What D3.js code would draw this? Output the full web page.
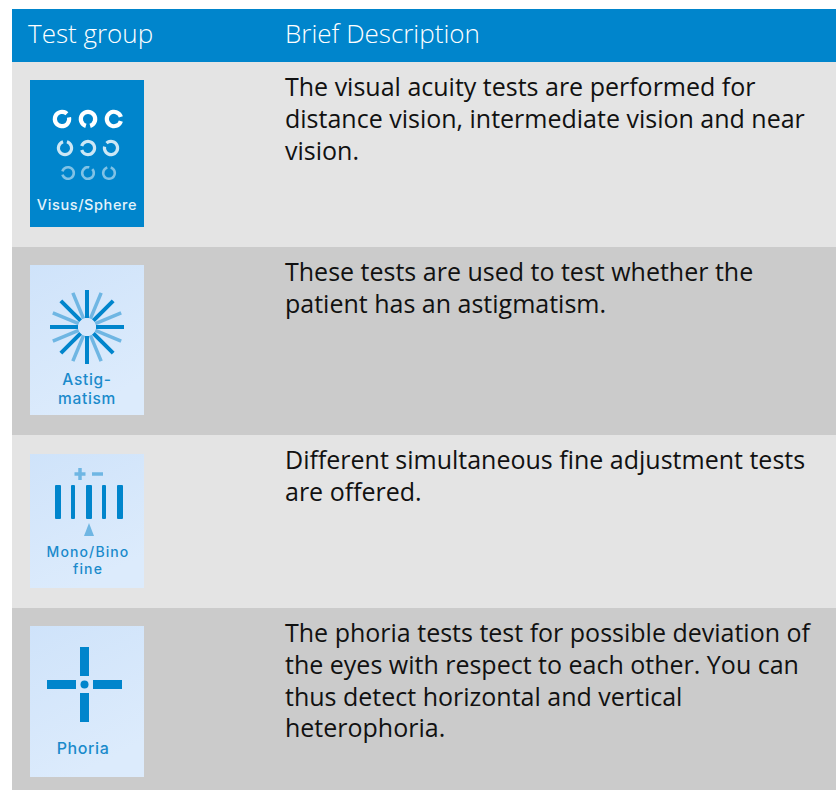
<!DOCTYPE html>
<html>
<head>
<meta charset="utf-8">
<script src="https://cdn.jsdelivr.net/npm/d3@7"></script>
<style>
  html, body { margin: 0; padding: 0; background: white; }
  svg { display: block; }
  text { font-family: "Open Sans", "Noto Sans", sans-serif; }
  text.icon-label { font-family: Inter, "Open Sans", sans-serif; }
</style>
</head>
<body>
<svg id="chart" width="836" height="790"></svg>
<script>
const headers = ["Test group", "Brief Description"];
const groups = ["Visus/Sphere", "Astigmatism", "Mono/Bino fine", "Phoria"];
const iconLabels = [["Visus/Sphere"], ["Astig-", "matism"], ["Mono/Bino", "fine"], ["Phoria"]];
const descriptions = [
    ["The visual acuity tests are performed for", "distance vision, intermediate vision and near", "vision."],
    ["These tests are used to test whether the", "patient has an astigmatism."],
    ["Different simultaneous fine adjustment tests", "are offered."],
    ["The phoria tests test for possible deviation of", "the eyes with respect to each other. You can", "thus detect horizontal and vertical", "heterophoria."]
];
const rowEdges = [62, 247, 435, 608, 790];
const iconEdges = [[80, 227], [265, 415], [454, 588], [626, 777]];

const BLUE = "#0085cc";
const LIGHT = "#6fb6e3";
const svg = d3.select("#chart");

const defs = svg.append("defs");
const grad = defs.append("linearGradient").attr("id", "iconBg")
    .attr("x1", 0).attr("y1", 0).attr("x2", 0.4).attr("y2", 1);
grad.append("stop").attr("offset", 0).attr("stop-color", "#cfe3fa");
grad.append("stop").attr("offset", 1).attr("stop-color", "#dcebfc");

// header band
svg.append("rect").attr("x", 12).attr("y", 9).attr("width", 824).attr("height", 53).attr("fill", BLUE);
svg.selectAll("text.head").data(headers).join("text")
    .attr("class", "head")
    .attr("x", (d, i) => i === 0 ? 28 : 285)
    .attr("y", 43)
    .attr("fill", "white")
    .attr("font-size", 26)
    .attr("font-weight", 300)
    .text(d => d);

// rows
groups.forEach((g, i) => {
    const top = rowEdges[i], bottom = rowEdges[i + 1];
    svg.append("rect").attr("x", 12).attr("y", top).attr("width", 824).attr("height", bottom - top)
        .attr("fill", i % 2 === 0 ? "#e4e4e4" : "#cbcbcb");

    svg.append("rect").attr("x", 30).attr("y", iconEdges[i][0]).attr("width", 114)
        .attr("height", iconEdges[i][1] - iconEdges[i][0])
        .attr("fill", i === 0 ? BLUE : "url(#iconBg)");

    svg.selectAll("text.desc" + i).data(descriptions[i]).join("text")
        .attr("class", "desc" + i)
        .attr("x", 285)
        .attr("y", (d, j) => top + 34 + j * 31.8)
        .attr("fill", "#111")
        .attr("font-size", 25)
        .text(d => d);
});

function iconText(lines, cx, baselines, color, size, spacing) {
    lines.forEach((t, j) => {
        svg.append("text").attr("class", "icon-label").attr("x", cx).attr("y", baselines[j])
            .attr("text-anchor", "middle").attr("fill", color)
            .attr("letter-spacing", spacing)
            .attr("font-size", size).attr("font-weight", 500).text(t);
    });
}

// visus icon: three rows of broken rings
const ringRows = [
    { y: 119, xs: [62, 88, 114], r: 7.2, w: 4.2, o: 1, gaps: [60, 180, 90] },
    { y: 148, xs: [65, 88, 111], r: 6.6, w: 3.2, o: 0.8, gaps: [0, 270, 300] },
    { y: 173, xs: [68, 88, 109], r: 5.8, w: 2.6, o: 0.5, gaps: [270, 30, 0] }
];
const ringArc = d3.arc();
ringRows.forEach(row => {
    row.xs.forEach((x, k) => {
        const g = row.gaps[k] * Math.PI / 180, half = 0.3;
        svg.append("path")
            .attr("transform", `translate(${x},${row.y})`)
            .attr("d", ringArc({
                innerRadius: row.r - row.w / 2, outerRadius: row.r + row.w / 2,
                startAngle: g + half, endAngle: g + 2 * Math.PI - half
            }))
            .attr("fill", "white").attr("opacity", row.o);
    });
});
iconText(iconLabels[0], 87, [210], "#e4f3fb", 14.5, 0.6);

// astigmatism icon: star of rays
d3.range(16).forEach(k => {
    const a = k * Math.PI / 8;
    const even = k % 2 === 0;
    const r0 = 9, r1 = 37;
    svg.append("line")
        .attr("x1", 87 + r0 * Math.sin(a)).attr("y1", 327 - r0 * Math.cos(a))
        .attr("x2", 87 + r1 * Math.sin(a)).attr("y2", 327 - r1 * Math.cos(a))
        .attr("stroke", even ? BLUE : LIGHT)
        .attr("stroke-width", even ? 4 : 3.5);
});
iconText(iconLabels[1], 87, [385, 404], "#1a8acb", 15.5, 0.7);

// mono/bino icon: bars with plus, minus and pointer
const barXs = [58, 73, 89, 104, 120];
barXs.forEach((x, k) => {
    const w = k % 2 === 0 ? 6 : 4;
    svg.append("rect").attr("x", x - w / 2).attr("y", 485).attr("width", w).attr("height", 34).attr("rx", 1).attr("fill", BLUE);
});
svg.append("line").attr("x1", 80).attr("x2", 80).attr("y1", 468).attr("y2", 480).attr("stroke", LIGHT).attr("stroke-width", 3.5);
svg.append("line").attr("x1", 74.5).attr("x2", 85.5).attr("y1", 474).attr("y2", 474).attr("stroke", LIGHT).attr("stroke-width", 3.5);
svg.append("line").attr("x1", 92).attr("x2", 103).attr("y1", 474).attr("y2", 474).attr("stroke", LIGHT).attr("stroke-width", 3.5);
svg.append("path").attr("d", "M89,523L94,536H84Z").attr("fill", LIGHT);
iconText(iconLabels[2], 88, [557, 574], "#1a8acb", 14, 1.1);

// phoria icon: split cross with a dot
[[80, 647, 9, 29], [80, 693, 9, 29], [47, 680, 29, 9], [93, 680, 29, 9]].forEach(b => {
    svg.append("rect").attr("x", b[0]).attr("y", b[1]).attr("width", b[2]).attr("height", b[3]).attr("fill", BLUE);
});
svg.append("circle").attr("cx", 84.5).attr("cy", 684.5).attr("r", 4).attr("fill", BLUE);
iconText(iconLabels[3], 83, [754], "#1a8acb", 16, 0.6);
</script>
</body>
</html>
